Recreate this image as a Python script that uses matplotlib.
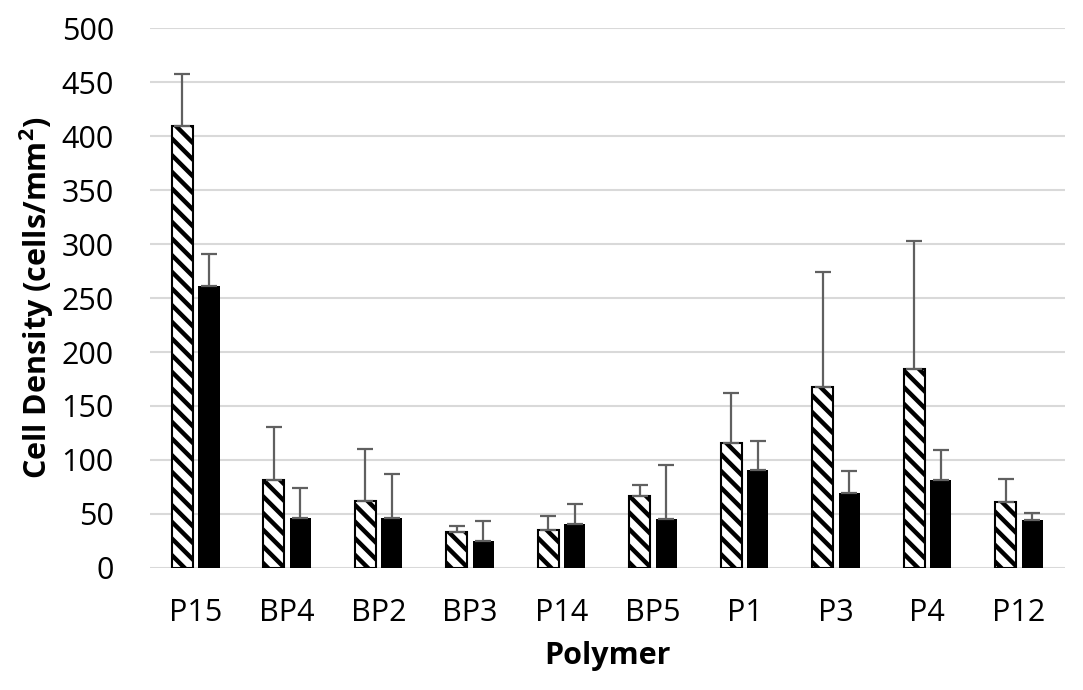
import matplotlib
matplotlib.use("Agg")
import matplotlib.pyplot as plt
import numpy as np

# Values
polymers = ['P15', 'BP4', 'BP2', 'BP3', 'P14', 'BP5', 'P1', 'P3', 'P4', 'P12']
hatched_vals = [409, 81, 62, 33, 35, 67, 116, 168, 184, 61]
hatched_err = [49, 50, 48, 6, 13, 10, 46, 106, 119, 21]
solid_vals = [261, 46, 46, 25, 41, 45, 91, 69, 81, 44]
solid_err = [30, 28, 41, 18, 18, 50, 27, 21, 28, 7]

plt.rcParams['font.family'] = ['Open Sans', 'DejaVu Sans']
plt.rcParams['hatch.linewidth'] = 3.2

fig = plt.figure(figsize=(10.83, 6.9), dpi=100)
ax = fig.add_axes([0.1385, 0.177, 0.8445, 0.782])

x = np.arange(len(polymers))
w = 0.23
off = 0.145
err_kw = dict(ecolor='#606060', elinewidth=1.6, capsize=6, capthick=1.6)

ax.bar(x - off, hatched_vals, w, color='white', edgecolor='black', linewidth=1.5,
       hatch='\\\\', yerr=[np.zeros(len(x)), hatched_err], error_kw=err_kw, zorder=3)
ax.bar(x + off, solid_vals, w, color='black', edgecolor='black', linewidth=0,
       yerr=[np.zeros(len(x)), solid_err], error_kw=err_kw, zorder=3)

ax.set_xlim(-0.5, len(polymers) - 0.5)
ax.set_ylim(0, 500)
ax.set_yticks(np.arange(0, 501, 50))
ax.set_xticks(x)
ax.set_xticklabels(polymers)
ax.tick_params(axis='both', length=0, labelsize=22, colors='black')
ax.tick_params(axis='x', pad=22)
ax.tick_params(axis='y', pad=26)

ax.grid(axis='y', color='#d9d9d9', linewidth=1.5, zorder=0)
for s in ['top', 'right', 'left', 'bottom']:
    ax.spines[s].set_visible(False)

ax.set_ylabel('Cell Density (cells/mm$^\\mathregular{2}$)', fontsize=22, fontweight='bold', labelpad=4)
ax.set_xlabel('Polymer', fontsize=22, fontweight='bold', labelpad=9)

fig.savefig('out.png', dpi=100)
